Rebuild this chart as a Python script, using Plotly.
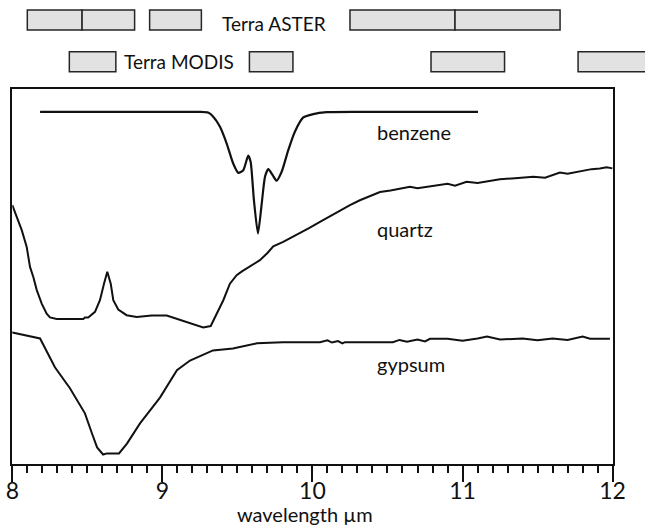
import plotly.graph_objects as go

# ---- spectra (wavelength in micrometres, relative signal 0..1) ----
benzene_wl = [8.185, 8.70, 9.10, 9.250, 9.304, 9.339, 9.384, 9.428, 9.472, 9.506,
              9.539, 9.572, 9.588, 9.610, 9.637, 9.662, 9.684, 9.706, 9.735, 9.761,
              9.795, 9.839, 9.883, 9.939, 10.005, 10.095, 10.30, 10.70, 11.103]
benzene_val = [0.939, 0.939, 0.939, 0.939, 0.937, 0.926, 0.899, 0.855, 0.801, 0.776,
               0.783, 0.822, 0.806, 0.703, 0.614, 0.694, 0.766, 0.786, 0.770, 0.755,
               0.779, 0.837, 0.886, 0.924, 0.933, 0.938, 0.939, 0.939, 0.939]

quartz_wl = [8.000, 8.029, 8.063, 8.096, 8.118, 8.140, 8.163, 8.196, 8.229, 8.251,
             8.296, 8.380, 8.473, 8.484, 8.506, 8.551, 8.584, 8.611, 8.633, 8.656,
             8.673, 8.706, 8.762, 8.829, 8.929, 9.029, 9.073, 9.162, 9.229, 9.272,
             9.322, 9.362, 9.406, 9.450, 9.495, 9.530, 9.562, 9.610, 9.650, 9.700,
             9.739, 9.805, 9.860, 9.917, 9.980, 10.050, 10.120, 10.183, 10.250,
             10.316, 10.380, 10.450, 10.520, 10.583, 10.65, 10.70, 10.805, 10.90,
             10.95, 11.027, 11.10, 11.249, 11.35, 11.471, 11.55, 11.649, 11.70,
             11.804, 11.86, 11.915, 11.96, 12.000]
quartz_val = [0.690, 0.659, 0.623, 0.578, 0.525, 0.498, 0.463, 0.427, 0.400, 0.390,
              0.386, 0.386, 0.386, 0.390, 0.390, 0.405, 0.436, 0.480, 0.512, 0.480,
              0.436, 0.411, 0.396, 0.391, 0.395, 0.395, 0.389, 0.378, 0.369, 0.363,
              0.367, 0.400, 0.436, 0.480, 0.503, 0.513, 0.521, 0.531, 0.543, 0.562,
              0.580, 0.592, 0.603, 0.616, 0.629, 0.645, 0.661, 0.676, 0.690,
              0.703, 0.713, 0.725, 0.729, 0.734, 0.739, 0.735, 0.741, 0.747,
              0.742, 0.752, 0.749, 0.759, 0.762, 0.766, 0.763, 0.777, 0.774,
              0.783, 0.786, 0.788, 0.791, 0.788]

gypsum_wl = [7.971, 8.000, 8.185, 8.284, 8.384, 8.484, 8.531, 8.565, 8.605, 8.631,
             8.711, 8.764, 8.851, 8.937, 8.984, 9.097, 9.184, 9.337, 9.470, 9.630,
             9.803, 10.050, 10.10, 10.13, 10.17, 10.20, 10.216, 10.536, 10.58,
             10.63, 10.70, 10.75, 10.783, 10.90, 11.00, 11.10, 11.163, 11.25,
             11.40, 11.50, 11.60, 11.70, 11.80, 11.85, 11.982]
gypsum_val = [0.353, 0.350, 0.334, 0.257, 0.201, 0.134, 0.080, 0.043, 0.024, 0.027,
              0.027, 0.053, 0.107, 0.150, 0.176, 0.249, 0.275, 0.302, 0.307, 0.321,
              0.324, 0.324, 0.329, 0.323, 0.327, 0.321, 0.324, 0.324, 0.330,
              0.325, 0.331, 0.326, 0.333, 0.333, 0.328, 0.334, 0.339, 0.331,
              0.334, 0.329, 0.334, 0.330, 0.339, 0.333, 0.333]

# ---- sensor thermal-infrared band edges (micrometres) ----
aster_start = [8.10, 8.465, 8.915, 10.25, 10.95]
aster_end = [8.465, 8.815, 9.26, 10.95, 11.65]
modis_start = [8.38, 9.58, 10.79, 11.77]
modis_end = [8.69, 9.87, 11.28, 12.27]

W, H = 645, 528
# plot frame in pixels
left_px, right_px, top_px, bottom_px = 12.3, 612.6, 89, 463.5
xd0, xd1 = left_px / W, right_px / W
yd0, yd1 = (H - bottom_px) / H, (H - top_px) / H
x_lo, x_hi = 8, 12
upp = (x_hi - x_lo) / (xd1 - xd0)
x2_range = [x_lo - xd0 * upp, x_hi + (1 - xd1) * upp]

FONT = "Lato"
LINE = "#111111"

fig = go.Figure()

for wl, val, w, shape in [(benzene_wl, benzene_val, 2.2, "spline"),
                          (quartz_wl, quartz_val, 2.0, "linear"),
                          (gypsum_wl, gypsum_val, 2.0, "linear")]:
    fig.add_trace(go.Scatter(
        x=wl, y=val, mode="lines",
        line=dict(color=LINE, width=w, shape=shape, smoothing=0.6),
        xaxis="x", yaxis="y", showlegend=False, hoverinfo="skip"))

for name, starts, ends in [("Terra ASTER", aster_start, aster_end),
                           ("Terra MODIS", modis_start, modis_end)]:
    fig.add_trace(go.Bar(
        y=[name] * len(starts), x=[e - s for s, e in zip(starts, ends)], base=starts,
        orientation="h", width=0.48,
        marker=dict(color="#e2e2e2", line=dict(color="#262626", width=1.5)),
        xaxis="x2", yaxis="y2", showlegend=False, hoverinfo="skip"))

labels = [("benzene", 0.885), ("quartz", 0.627), ("gypsum", 0.267)]
annotations = [dict(x=10.416, y=v, xref="x", yref="y", text=t, showarrow=False,
                    xanchor="left", yanchor="middle",
                    font=dict(family=FONT, size=20, color="#111"))
               for t, v in labels]
annotations += [
    dict(x=9.742, y="Terra ASTER", xref="x2", yref="y2", text="Terra ASTER",
         showarrow=False, xanchor="center", yanchor="middle", yshift=-3,
         font=dict(family=FONT, size=19, color="#111")),
    dict(x=9.112, y="Terra MODIS", xref="x2", yref="y2", text="Terra MODIS",
         showarrow=False, xanchor="center", yanchor="middle", yshift=0,
         font=dict(family=FONT, size=19, color="#111")),
    dict(x=9.95, y=0, xref="x", yref="paper", text="wavelength µm",
         showarrow=False, xanchor="center", yanchor="bottom", yshift=0,
         font=dict(family=FONT, size=20, color="#111")),
]

fig.update_layout(
    template="none",
    width=W, height=H,
    margin=dict(l=0, r=0, t=0, b=0),
    paper_bgcolor="white", plot_bgcolor="white",
    barmode="overlay",
    annotations=annotations,
    xaxis=dict(domain=[xd0, xd1], range=[x_lo, x_hi], anchor="y",
               showgrid=False, zeroline=False,
               showline=True, mirror=True, linecolor=LINE, linewidth=2,
               tickmode="linear", tick0=8, dtick=1,
               ticks="outside", ticklen=16, tickwidth=2, tickcolor=LINE,
               ticklabelstandoff=-10,
               minor=dict(dtick=0.1, ticks="outside", ticklen=7, tickwidth=1.5,
                          tickcolor=LINE, showgrid=False),
               tickfont=dict(family=FONT, size=23, color="#111"),
               automargin=False),
    yaxis=dict(domain=[yd0, yd1], range=[0, 1], anchor="x",
               showgrid=False, zeroline=False, showticklabels=False, ticks="",
               showline=True, mirror=True, linecolor=LINE, linewidth=2,
               automargin=False),
    xaxis2=dict(domain=[0, 1], range=x2_range, anchor="y2", visible=False),
    yaxis2=dict(domain=[yd1, 1], range=[-0.655, 1.48], anchor="x2", visible=False,
                type="category", categoryorder="array",
                categoryarray=["Terra MODIS", "Terra ASTER"]),
)

fig.write_html("out.html")
